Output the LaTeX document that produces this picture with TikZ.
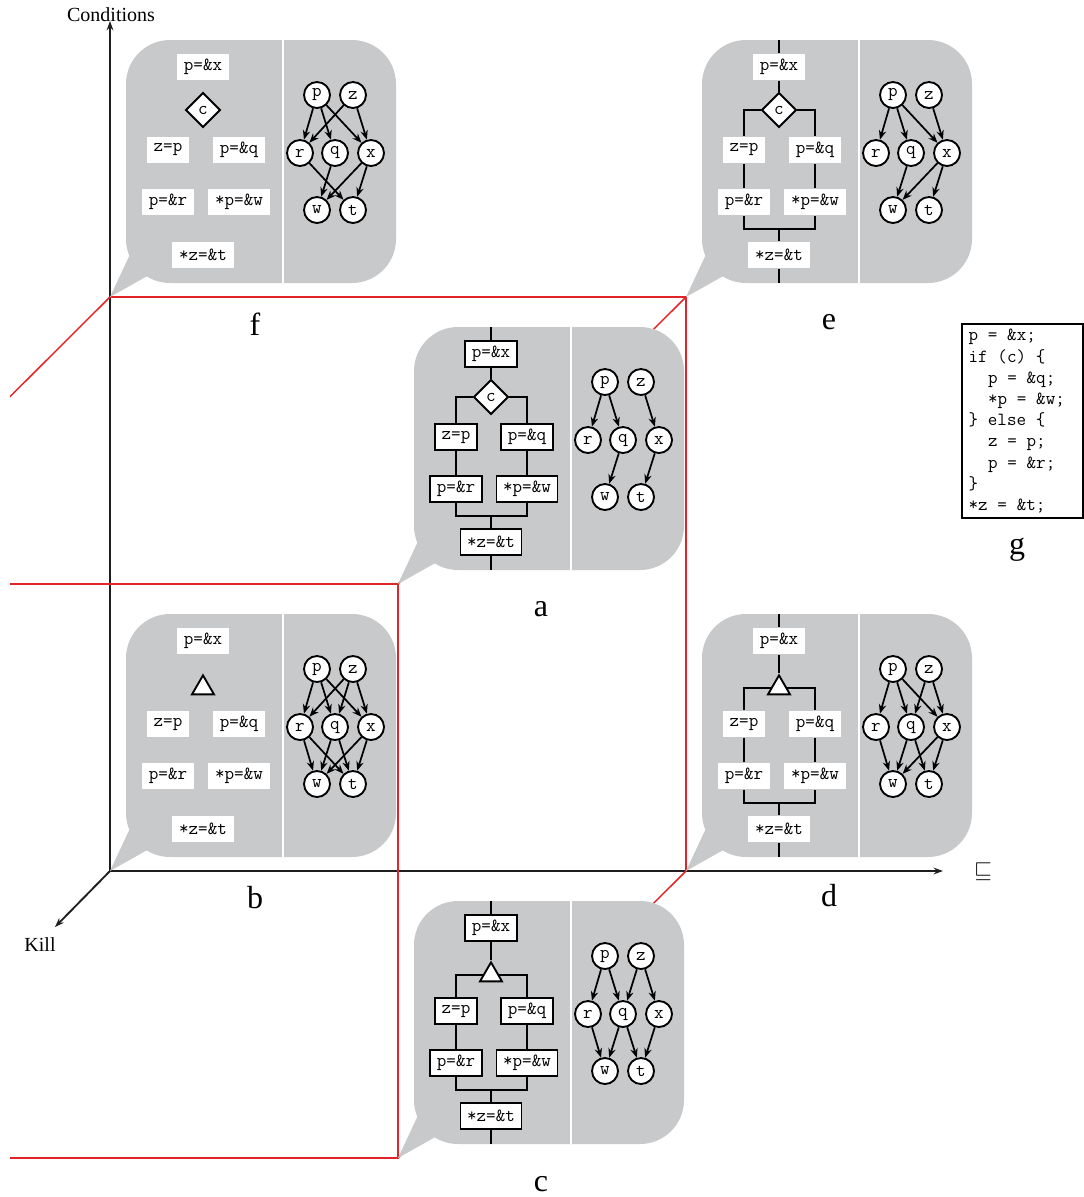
\documentclass[tikz,border=0pt]{standalone}
\usepackage{fontspec}
\setmainfont{Liberation Serif}
\usepackage{amssymb}
\usetikzlibrary{shapes.geometric, arrows.meta, positioning, calc}
\definecolor{bubblegray}{RGB}{200, 201, 203}
\definecolor{cubered}{RGB}{226, 36, 40}
\definecolor{axisblack}{RGB}{30, 30, 30}
\newcommand{\stmtfont}{\fontsize{13.9}{16}\selectfont\ttfamily}
\newcommand{\ind}{\hspace*{1.05em}}
\newcommand{\codespaces}{\spaceskip=0.525em\relax}
\tikzset{
  stmt/.style={rectangle, fill=white, inner xsep=5pt, inner ysep=0pt,
               minimum height=20pt, font=\stmtfont},
  stmtb/.style={stmt, draw=black, line width=1.4pt},
  cond/.style={diamond, draw=black, fill=white, line width=1.4pt, inner sep=0pt,
               minimum width=26pt, minimum height=26pt, font=\stmtfont},
  merge/.style={regular polygon, regular polygon sides=3, draw=black, fill=white,
                line width=1.4pt, inner sep=0pt, minimum size=19pt},
  var/.style={circle, draw=black, fill=white, line width=1.4pt, minimum size=19.5pt,
              inner sep=0pt, font=\stmtfont},
  pts/.style={-{Stealth[length=7pt, width=5.5pt]}, line width=1.3pt},
  flow/.style={line width=1.6pt},
  axis/.style={-{Stealth[length=7pt, width=5pt]}, line width=1.4pt, color=axisblack},
  cube/.style={cubered, line width=1.1pt},
  caption/.style={font=\fontsize{24}{28}\selectfont},
  axlabel/.style={font=\fontsize{15}{18}\selectfont},
  codebox/.style={rectangle, draw=black, line width=1.5pt, align=left, text width=81pt,
                  inner xsep=5pt, inner ysep=4pt,
                  font=\fontsize{13.9}{15.9}\selectfont\ttfamily},
}
% speech bubble, tail tip at the scope origin
\newcommand{\bubble}{%
  \fill[bubblegray] (0,0) -- (30,-64) -- (64,-36) -- cycle;
  \fill[bubblegray, rounded corners=33pt] (16,-257) rectangle (286,-14);
  \draw[white, line width=2.2pt] (173,-257) -- (173,-14);
}
% the six statements, #1 = suffix, #2 = box style
\newcommand{\stmts}[2]{%
  \node[#2] (px#1) at (93,-230) {p=\&x};
  \node[#2] (zp#1) at (58,-147) {z=p};
  \node[#2] (pq#1) at (129,-147) {p=\&q};
  \node[#2] (pr#1) at (58,-95) {p=\&r};
  \node[#2] (pw#1) at (129,-95) {*p=\&w};
  \node[#2] (zt#1) at (93,-42) {*z=\&t};
}
% control flow, #1 = suffix, #2 = branch node
\newcommand{\flows}[2]{%
  \coordinate (top#1) at (93,-257);
  \coordinate (join#1) at (93,-68);
  \coordinate (bot#1) at (93,-14);
  \draw[flow] (top#1) -- (px#1) -- (#2);
  \draw[flow] (#2) -| (zp#1) -- (pr#1) |- (join#1);
  \draw[flow] (#2) -| (pq#1) -- (pw#1) |- (join#1);
  \draw[flow] (join#1) -- (zt#1) -- (bot#1);
}
% points-to graph nodes
\newcommand{\vars}[1]{%
  \node[var] (p#1) at (207,-202) {p};
  \node[var] (z#1) at (243,-202) {z};
  \node[var] (r#1) at (190,-144) {r};
  \node[var] (q#1) at (225,-144) {q};
  \node[var] (x#1) at (261,-144) {x};
  \node[var] (w#1) at (207,-87) {w};
  \node[var] (t#1) at (243,-87) {t};
}

\begin{document}
\begin{tikzpicture}[x=0.75pt, y=-0.75pt]
  \useasboundingbox (0,0) rectangle (1084,1197);

  % lattice corners
  \coordinate (O) at (110,871);
  \coordinate (F) at (110,297);
  \coordinate (E) at (686,297);
  \coordinate (D) at (686,871);
  \coordinate (A) at (398,584);
  \coordinate (C) at (398,1158);
  \coordinate (ftl) at (-178,584);
  \coordinate (fbl) at (-178,1158);

  % axes
  \coordinate (condtip) at (110,21);
  \coordinate (ordtip) at (943,871);
  \coordinate (killtip) at (55,927);
  \draw[axis] (O) -- (condtip);
  \draw[axis] (O) -- (ordtip);
  \draw[axis] (O) -- (killtip);
  \node[axlabel] (condlab) at (111,15) {Conditions};
  \node[axlabel] (killlab) at (40,945) {Kill};
  \node[font=\fontsize{17}{20}\selectfont] (ordlab) at (983,872) {$\sqsubseteq$};

  % red cube
  \begin{scope}
    \clip (10,0) rectangle (1084,1197);
    \draw[cube] (F) -- (E) -- (D);
    \draw[cube] (F) -- (ftl);
    \draw[cube] (ftl) -- (A) -- (C) -- (fbl);
    \draw[cube] (E) -- (A);
    \draw[cube] (D) -- (C);
  \end{scope}

  % f
  \begin{scope}[shift={(F)}]
    \bubble
    \stmts{f}{stmt}
    \node[cond] (cf) at (93,-187) {c};
    \vars{f}
    \draw[pts] (pf) edge (rf) edge (qf) edge (xf);
    \draw[pts] (zf) edge (rf) edge (xf);
    \draw[pts] (rf) edge (tf);
    \draw[pts] (qf) edge (wf);
    \draw[pts] (xf) edge (wf) edge (tf);
    \node[caption] (labf) at (145,27) {f};
  \end{scope}

  % e
  \begin{scope}[shift={(E)}]
    \bubble
    \stmts{e}{stmt}
    \node[cond] (ce) at (93,-187) {c};
    \flows{e}{ce}
    \vars{e}
    \draw[pts] (pe) edge (re) edge (qe) edge (xe);
    \draw[pts] (ze) edge (xe);
    \draw[pts] (qe) edge (we);
    \draw[pts] (xe) edge (we) edge (te);
    \node[caption] (labe) at (143,25) {e};
  \end{scope}

  % a
  \begin{scope}[shift={(A)}]
    \bubble
    \stmts{a}{stmtb}
    \node[cond] (ca) at (93,-187) {c};
    \flows{a}{ca}
    \vars{a}
    \draw[pts] (pa) edge (ra) edge (qa);
    \draw[pts] (za) edge (xa);
    \draw[pts] (qa) edge (wa);
    \draw[pts] (xa) edge (ta);
    \node[caption] (laba) at (143,25) {a};
  \end{scope}

  % b
  \begin{scope}[shift={(O)}]
    \bubble
    \stmts{b}{stmt}
    \node[merge] (mb) at (93,-183) {};
    \vars{b}
    \draw[pts] (pb) edge (rb) edge (qb) edge (xb);
    \draw[pts] (zb) edge (rb) edge (qb) edge (xb);
    \draw[pts] (rb) edge (wb) edge (tb);
    \draw[pts] (qb) edge (wb) edge (tb);
    \draw[pts] (xb) edge (wb) edge (tb);
    \node[caption] (labb) at (145,27) {b};
  \end{scope}

  % d
  \begin{scope}[shift={(D)}]
    \bubble
    \stmts{d}{stmt}
    \node[merge] (md) at (93,-183) {};
    \flows{d}{md}
    \vars{d}
    \draw[pts] (pd) edge (rd) edge (qd) edge (xd);
    \draw[pts] (zd) edge (qd) edge (xd);
    \draw[pts] (rd) edge (wd);
    \draw[pts] (qd) edge (wd) edge (td);
    \draw[pts] (xd) edge (wd) edge (td);
    \node[caption] (labd) at (143,25) {d};
  \end{scope}

  % c
  \begin{scope}[shift={(C)}]
    \bubble
    \stmts{c}{stmtb}
    \node[merge] (mc) at (93,-183) {};
    \flows{c}{mc}
    \vars{c}
    \draw[pts] (pc) edge (rc) edge (qc);
    \draw[pts] (zc) edge (qc) edge (xc);
    \draw[pts] (rc) edge (wc);
    \draw[pts] (qc) edge (wc) edge (tc);
    \draw[pts] (xc) edge (tc);
    \node[caption] (labc) at (143,26) {c};
  \end{scope}

  % g
  \node[codebox, anchor=north west] (code) at (961,323)
    {\codespaces p = \&x;\\
     if (c) \{\\
     \ind p = \&q;\\
     \ind {*}p = \&w;\\
     \} else \{\\
     \ind z = p;\\
     \ind p = \&r;\\
     \}\\
     {*}z = \&t;};
  \node[caption] (labg) at (1017,550) {g};
\end{tikzpicture}
\end{document}
